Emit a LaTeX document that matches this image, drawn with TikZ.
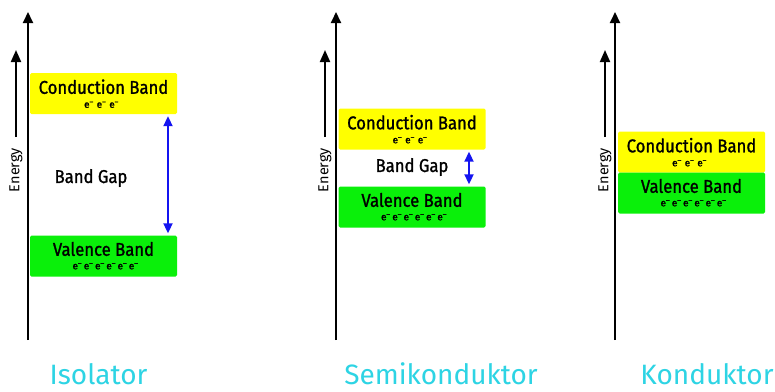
\documentclass[tikz,border=0pt]{standalone}
\usepackage{fontspec}
\setmainfont{Fira Sans}
\newfontfamily\labelfont[FakeStretch=0.9,FakeBold=1.2]{Fira Sans}
\newfontfamily\smallfont[FakeBold=1.5]{Fira Sans}
\usetikzlibrary{arrows.meta}
\definecolor{bandyellow}{RGB}{255,255,0}
\definecolor{bandgreen}{RGB}{10,240,10}
\definecolor{titlecyan}{RGB}{45,212,228}
\definecolor{gapblue}{RGB}{20,20,240}
\newcommand{\elec}{e\textsuperscript{–}}
\tikzset{
  band/.style={rectangle, rounded corners=1.5pt, minimum width=147pt,
    minimum height=41pt, inner sep=0pt},
  condband/.style={band, fill=bandyellow},
  valband/.style={band, fill=bandgreen},
  axisline/.style={line width=2pt, -{Triangle[width=10pt,length=11pt]}},
  energyline/.style={line width=2pt, -{Triangle[width=10pt,length=12pt]}},
  gaparrow/.style={gapblue, line width=2pt,
    {Triangle[width=9pt,length=10pt]}-{Triangle[width=9pt,length=10pt]},
    shorten <=2pt, shorten >=2pt},
  bandlabel/.style={font=\labelfont\fontsize{18.5}{20}\selectfont, inner sep=0pt, anchor=base},
  electrons/.style={font=\smallfont\fontsize{10}{11}\selectfont, inner sep=0pt},
  energylabel/.style={font=\fontsize{14.5}{15}\selectfont, rotate=90, inner sep=0pt},
  gaplabel/.style={font=\labelfont\fontsize{18.5}{20}\selectfont, inner sep=0pt},
  titlelabel/.style={font=\fontsize{28}{30}\selectfont, text=titlecyan, anchor=base, inner sep=0pt},
}
\begin{document}
\begin{tikzpicture}[x=1pt,y=-1pt]
\useasboundingbox[fill=white] (0,0) rectangle (775,391);

% ---------- Isolator ----------
\coordinate (isoBase) at (28,340);
\coordinate (isoTop) at (28,12);
\draw[axisline] (isoBase) -- (isoTop);
\coordinate (isoEnLow) at (16,137);
\coordinate (isoEnHigh) at (16,50);
\draw[energyline] (isoEnLow) -- (isoEnHigh);
\node[energylabel] (isoEnergy) at (16,170) {Energy};
\node[condband] (isoCond) at (103.5,93.5) {};
\node[bandlabel] (isoCondT) at ([yshift=-21pt]isoCond.north) {Conduction Band};
\node[electrons] (isoCondE) at ([yshift=-32pt,xshift=-2pt]isoCond.north) {\elec\hspace{3pt}\elec\hspace{3pt}\elec};
\node[valband] (isoVal) at (103.5,256) {};
\node[bandlabel] (isoValT) at ([yshift=-20.5pt]isoVal.north) {Valence Band};
\node[electrons] (isoValE) at ([yshift=-31pt,xshift=2pt]isoVal.north) {\elec\,\elec\,\elec\,\elec\,\elec\,\elec};
\coordinate (isoGapX) at (168,0);
\draw[gaparrow] (isoCond.south -| isoGapX) -- (isoVal.north -| isoGapX);
\node[gaplabel] (isoGap) at (91,178) {Band Gap};
\node[titlelabel] (isoTitle) at (98.5,384) {Isolator};

% ---------- Semikonduktor ----------
\coordinate (semBase) at (336,340);
\coordinate (semTop) at (336,12);
\draw[axisline] (semBase) -- (semTop);
\coordinate (semEnLow) at (325,137);
\coordinate (semEnHigh) at (325,50);
\draw[energyline] (semEnLow) -- (semEnHigh);
\node[energylabel] (semEnergy) at (325,170) {Energy};
\node[condband] (semCond) at (412,129) {};
\node[bandlabel] (semCondT) at ([yshift=-21pt]semCond.north) {Conduction Band};
\node[electrons] (semCondE) at ([yshift=-32pt,xshift=-2pt]semCond.north) {\elec\hspace{3pt}\elec\hspace{3pt}\elec};
\node[valband] (semVal) at (412,207) {};
\node[bandlabel] (semValT) at ([yshift=-20.5pt]semVal.north) {Valence Band};
\node[electrons] (semValE) at ([yshift=-31pt,xshift=2pt]semVal.north) {\elec\,\elec\,\elec\,\elec\,\elec\,\elec};
\coordinate (semGapX) at (469,0);
\draw[gaparrow] (semCond.south -| semGapX) -- (semVal.north -| semGapX);
\node[gaplabel] (semGap) at (412,167) {Band Gap};
\node[titlelabel] (semTitle) at (441,384) {Semikonduktor};

% ---------- Konduktor ----------
\coordinate (konBase) at (615,340);
\coordinate (konTop) at (615,12);
\draw[axisline] (konBase) -- (konTop);
\coordinate (konEnLow) at (605,137);
\coordinate (konEnHigh) at (605,50);
\draw[energyline] (konEnLow) -- (konEnHigh);
\node[energylabel] (konEnergy) at (605,170) {Energy};
\node[condband] (konCond) at (691.5,152) {};
\node[bandlabel] (konCondT) at ([yshift=-21pt]konCond.north) {Conduction Band};
\node[electrons] (konCondE) at ([yshift=-32pt,xshift=-2pt]konCond.north) {\elec\hspace{3pt}\elec\hspace{3pt}\elec};
\node[valband] (konVal) at (691.5,193) {};
\node[bandlabel] (konValT) at ([yshift=-20.5pt]konVal.north) {Valence Band};
\node[electrons] (konValE) at ([yshift=-31pt,xshift=2pt]konVal.north) {\elec\,\elec\,\elec\,\elec\,\elec\,\elec};
\node[titlelabel] (konTitle) at (707,384) {Konduktor};
\end{tikzpicture}
\end{document}
